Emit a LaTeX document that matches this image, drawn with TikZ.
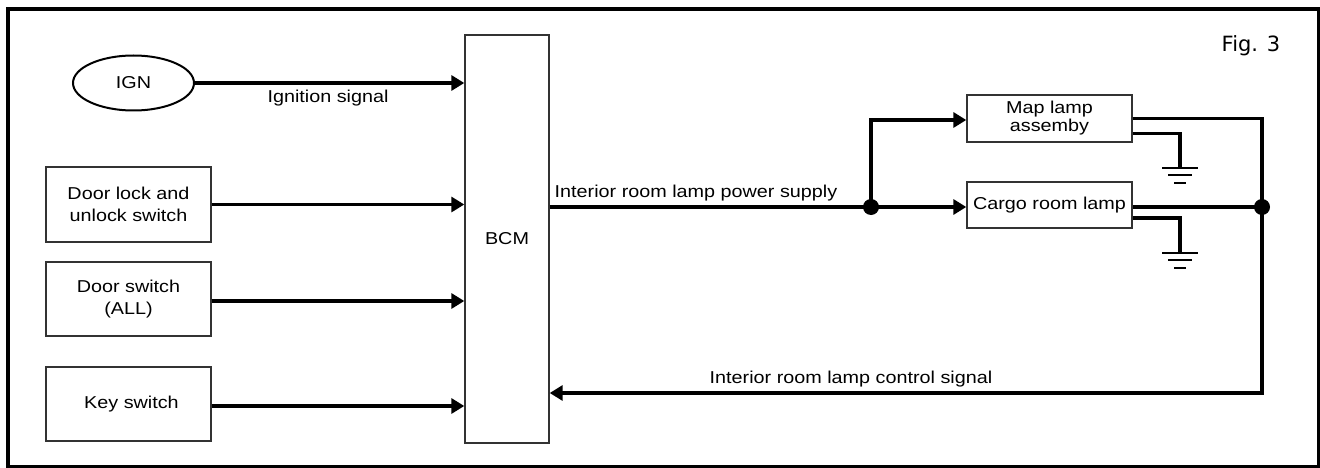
\documentclass[tikz,border=0pt]{standalone}
\usepackage{fontspec}
\setmainfont{Liberation Sans}[FakeStretch=1.15]
\newfontfamily\figfont{DejaVu Sans}
\usetikzlibrary{arrows.meta,shapes.geometric}
\begin{document}
\begin{tikzpicture}[x=1pt,y=-1pt,
  every node/.style={font=\fontsize{17.2}{21}\selectfont},
  blk/.style={draw=black!80,line width=1.4pt,rectangle,inner sep=0pt,align=center},
  wire/.style={line width=3.3pt},
  arr/.style={wire,-{Triangle[length=13pt,width=15pt]}},
  dot/.style={circle,fill=black,inner sep=0pt,minimum size=16pt},
  ground/.pic={\draw[line width=2.2pt] (-18pt,0)--(18pt,0) (-12pt,-7pt)--(12pt,-7pt) (-6pt,-15pt)--(6pt,-15pt);}
]
\useasboundingbox (0,0) rectangle (1320,468);
\draw[line width=4pt] (7.5,9) rectangle (1318.5,466.5);

\node[draw,line width=2pt,ellipse,minimum width=121pt,minimum height=55pt,inner sep=0pt] (ign) at (133.5,83) {IGN};
\node[blk,minimum width=84pt,minimum height=408pt] (bcm) at (507,239) {BCM};
\node[blk,minimum width=165pt,minimum height=75pt] (dlock) at (128.5,204.5) {Door lock and\\[1pt]unlock switch};
\node[blk,minimum width=165pt,minimum height=74pt] (dsw) at (128.5,299) {Door switch\\[1pt](ALL)};
\node[blk,minimum width=165pt,minimum height=74pt] (key) at (128.5,404) {\hspace*{6pt}Key switch};
\node[blk,minimum width=165pt,minimum height=47pt] (map) at (1049.5,118.5) {Map lamp\\[-3pt]assemby};
\node[blk,minimum width=165pt,minimum height=46pt] (cargo) at (1049.5,205) {Cargo room lamp};

\node[font=\figfont\fontsize{21}{24}\selectfont] (fig) at (1251,46) {Fig. 3};

\coordinate (j1) at (871,207);
\coordinate (rc) at (1262,393);
\coordinate (j2) at (1262,207);
\coordinate (g1) at (1180,168);
\coordinate (g2) at (1180,253);

\draw[arr] (ign.east) -- (ign.east -| bcm.west);
\node (ignlbl) at (328,98) {Ignition signal};
\draw[arr] (dlock.east) -- (dlock.east -| bcm.west);
\draw[arr] ([yshift=-2pt]dsw.east) -- ([yshift=-2pt]dsw.east -| bcm.west);
\draw[arr] ([yshift=-2pt]key.east) -- ([yshift=-2pt]key.east -| bcm.west);

\draw[wire] (j1 -| bcm.east) -- (j1);
\node (pwr) at (696,193) {Interior room lamp power supply};
\draw[arr] (j1) -- (j1 -| cargo.west);
\draw[arr] (j1) |- ([yshift=-1.5pt]map.west);
\node[dot] (d1) at (j1) {};

\draw[arr] (map.east) -| (rc) -- (rc -| bcm.east);
\node (ctl) at (851,379) {Interior room lamp control signal};
\draw[wire] (j2 -| cargo.east) -- (j2);
\node[dot] (d2) at (j2) {};

\draw[wire] ([yshift=-15pt]map.east) -| (g1);
\pic at (g1) {ground};
\draw[wire] ([yshift=-13pt]cargo.east) -| (g2);
\pic at (g2) {ground};
\end{tikzpicture}
\end{document}
